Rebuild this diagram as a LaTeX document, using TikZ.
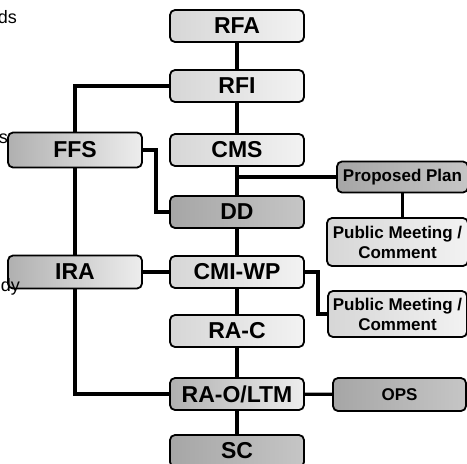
\documentclass[tikz,border=0pt]{standalone}
\usepackage{fontspec}
\setmainfont{Liberation Sans}
\usetikzlibrary{positioning}

\tikzset{
	box/.style={draw, rounded corners=5pt, line width=1.8pt, inner sep=0pt,
		minimum width=134pt, minimum height=32pt,
		font=\fontsize{23}{25}\selectfont\bfseries},
	smallbox/.style={box, font=\fontsize{17}{20}\selectfont\bfseries, align=center},
	lightfill/.style={left color=gray!32, right color=gray!10},
	midfill/.style={left color=gray!62, right color=gray!14},
	darkfill/.style={left color=gray!70, right color=gray!45},
	link/.style={line width=3.2pt},
	edgetext/.style={anchor=base east, inner sep=0pt, font=\fontsize{18}{20}\selectfont}
}

\begin{document}
\begin{tikzpicture}[x=1pt, y=-1pt]
		\useasboundingbox (0,0) rectangle (467,464);
		\clip (0,0) rectangle (467,464);
		% main column
		\node[box, lightfill] (rfa) at (237, 26) {RFA};
		\node[box, lightfill] (rfi) at (237, 86) {RFI};
		\node[box, lightfill] (cms) at (237, 150) {CMS};
		\node[box, darkfill] (dd) at (237, 212) {DD};
		\node[box, lightfill] (cmi) at (237, 272) {CMI-WP};
		\node[box, lightfill] (rac) at (237, 331) {RA-C};
		\node[box, midfill] (rao) at (237, 394) {RA-O/LTM};
		\node[box, darkfill] (sc) at (237, 451) {SC};
		% left branch
		\node[box, midfill, minimum height=35pt] (ffs) at (75, 150) {FFS};
		\node[box, midfill, minimum height=33pt] (ira) at (75, 272) {IRA};
		% right branch
		\node[smallbox, darkfill, minimum width=131pt, minimum height=31pt] (pp) at (402.5, 177) {Proposed Plan};
		\node[smallbox, lightfill, minimum width=141pt, minimum height=48pt] (pm1) at (397.5, 242) {Public Meeting /\\Comment};
		\node[smallbox, lightfill, minimum width=139pt, minimum height=46pt] (pm2) at (397.5, 314) {Public Meeting /\\Comment};
		\node[smallbox, darkfill, minimum width=133pt, minimum height=33pt] (ops) at (399.5, 394.5) {OPS};
		% cut-off text at the left edge
		\node[edgetext] (t1) at (17, 23) {ds};
		\node[edgetext] (t2) at (8, 143) {s};
		\node[edgetext] (t3) at (20, 291) {dy};

		\foreach \a/\b in {rfa/rfi, rfi/cms, cms/dd, dd/cmi, cmi/rac, rac/rao, rao/sc}
			\draw[link] (\a) -- (\b);
		\draw[link] (rfi.west) -| (ffs.north);
		\draw[link] (ffs.south) -- (ira.north);
		\draw[link] (ira.south) |- (rao.west);
		\draw[link] (ffs.east) -- ++(13,0) |- (dd.west);
		\draw[link] (ira) -- (cmi);
		\draw[link] (pp.west) -- (pp.west -| cms.south);
		\draw[link] (pp.south) -- (pp.south |- pm1.north);
		\draw[link] (cmi.east) -- ++(13,0) |- (pm2.west);
		\draw[link] (rao) -- (ops);
		\end{tikzpicture}
\end{document}
